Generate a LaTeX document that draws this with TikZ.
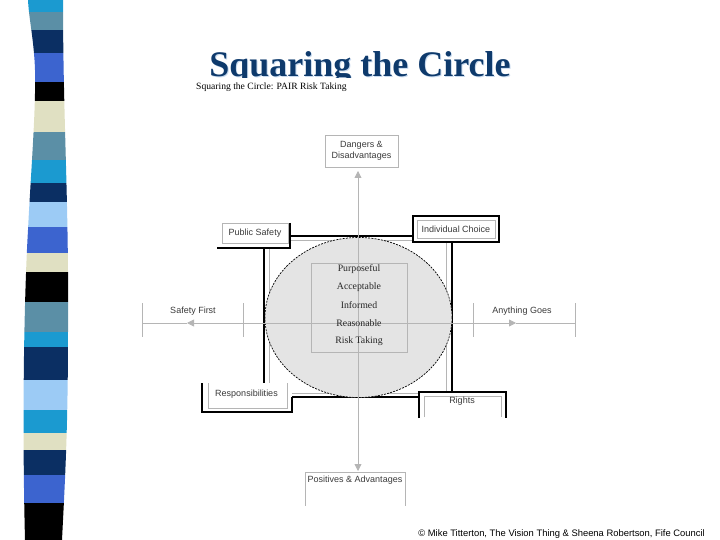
\documentclass[tikz,border=0pt]{standalone}
\usepackage{fontspec}
\setmainfont{Liberation Serif}
\newfontfamily\lsans{Liberation Sans}
\usetikzlibrary{arrows.meta,shapes.geometric}
\definecolor{titlenavy}{HTML}{0E3A6C}
\definecolor{titleshadow}{HTML}{C8DAEE}
\definecolor{cyanA}{HTML}{1B9AD0}
\definecolor{steel}{HTML}{5B8FA6}
\definecolor{navyS}{HTML}{0B2F63}
\definecolor{royal}{HTML}{3C64CF}
\definecolor{beige}{HTML}{E0E0C2}
\definecolor{lightb}{HTML}{9CCBF5}
\definecolor{linegray}{HTML}{B5B5B5}
\definecolor{labgray}{HTML}{3A3A3A}
\definecolor{circfill}{HTML}{E4E4E4}
\tikzset{
  box/.style={inner sep=0pt, outer sep=0pt},
  lab/.style={font=\lsans\fontsize{9}{10.5}\selectfont, text=labgray, align=center},
  gline/.style={draw=linegray, line width=0.7pt},
  blk/.style={draw=black, line width=1.4pt},
  wbox/.style={box, fill=white},
  axis/.style={draw=linegray, line width=0.8pt},
  axtip/.style={-{Triangle[length=7pt,width=7pt]}},
  ctext/.style={font=\fontsize{9.8}{11}\selectfont, text=black!85},
  ttl/.style={anchor=base, text depth=0pt, font=\bfseries\fontsize{36}{40}\selectfont}
}
\begin{document}
\begin{tikzpicture}[x=1pt,y=-1pt]
\useasboundingbox (0,0) rectangle (720,540);
% ---- stripe band ----
\begin{scope}
\clip (28,0) -- (63,0) .. controls (63,120) and (69,200) .. (68,330)
  .. controls (68,430) and (65,480) .. (62,540) -- (25,540)
  .. controls (22,420) and (24,300) .. (28,230)
  .. controls (31,170) and (36,110) .. (35,70)
  .. controls (34,40) and (29,20) .. (28,0) -- cycle;
\foreach \ya/\yb/\c in {0/12/cyanA,12/30/steel,30/53/navyS,53/82/royal,82/101/black,101/132/beige,132/160/steel,160/183/cyanA,183/202/navyS,202/227/lightb,227/253/royal,253/272/beige,272/302/black,302/332/steel,332/347/cyanA,347/380/navyS,380/410/lightb,410/433/cyanA,433/450/beige,450/475/navyS,475/503/royal,503/540/black}
  \fill[\c] (0,\ya) rectangle (100,\yb);
\end{scope}
% ---- title ----
\begin{scope}
\clip (150,0) rectangle (620,78);
\node[ttl, text=titleshadow] at (361,78) {Squaring the Circle};
\node[ttl, text=titlenavy] (title) at (360,77) {Squaring the Circle};
\end{scope}
\node[anchor=base west, font=\fontsize{9.6}{11}\selectfont, inner sep=0pt] (sub) at (196,90) {Squaring the Circle: PAIR Risk Taking};
% ---- squares and circle ----
\draw[blk] (264,236) rectangle (452,397);
\draw[gline] (269,240) rectangle (446,393);
\node[box, ellipse, minimum width=187pt, minimum height=160pt, fill=circfill, draw=black, dash pattern=on 2pt off 1.2pt, line width=0.7pt] (circ) at (358.5,317.5) {};
\node[box, minimum width=96pt, minimum height=89pt, gline] (core) at (359,307.5) {};
% ---- outer boxes ----
\node[box, lab, minimum width=73pt, minimum height=32pt, gline] (dang) at (361.5,151) {Dangers \&\\[1pt]Disadvantages};
\node[box, minimum width=100pt, minimum height=33pt] (pos) at (355,489) {};
\draw[gline] (pos.south west) -- (pos.north west) -- (pos.north east) -- (pos.south east);
\node[box, minimum width=101pt, minimum height=34pt] (sf) at (192.5,320) {};
\draw[gline] (sf.north west) -- (sf.south west) (sf.north east) -- (sf.south east);
\node[box, minimum width=102pt, minimum height=34pt] (ag) at (524,320) {};
\draw[gline] (ag.north west) -- (ag.south west) (ag.north east) -- (ag.south east);
% ---- axes ----
\coordinate (cen) at (358,323);
\coordinate (upTip) at (358,171);
\coordinate (dnTip) at (358,471);
\coordinate (lfTip) at (187,323);
\coordinate (rtTip) at (516,323);
\draw[axis, axtip] (cen) -- (upTip);
\draw[axis, axtip] (cen) -- (dnTip);
\draw[axis, axtip] (cen) -- (lfTip);
\draw[axis, axtip] (cen) -- (rtTip);
\draw[axis] (lfTip) -- (sf.west |- cen);
\draw[axis] (rtTip) -- (ag.east |- cen);
% ---- texts ----
\foreach \t/\y in {Purposeful/269,Acceptable/287,Informed/305,Reasonable/323,Risk Taking/341}
  \node[ctext, anchor=center] at (359,\y) {\t};
\node[lab, anchor=north] at (pos.north) {Positives \& Advantages};
\node[lab] at (193,311) {Safety First};
\node[lab] at (522,311) {Anything Goes};
% ---- corner boxes ----
\node[wbox, minimum width=73pt, minimum height=25pt] (psO) at (253.5,235.5) {};
\draw[blk] (psO.north east) -- (psO.south east) -- (psO.south west);
\node[box, lab, minimum width=66pt, minimum height=20pt, gline] (ps) at (255,233) {Public Safety};
\node[wbox, minimum width=86pt, minimum height=26pt, blk] (icO) at (456,229) {};
\node[box, lab, minimum width=78pt, minimum height=18pt, gline] (ic) at (456,229) {Individual Choice};
\node[wbox, minimum width=90pt, minimum height=29pt] (reO) at (247,397.5) {};
\draw[blk] (reO.north west) -- (reO.south west) -- (reO.south east) -- (reO.east |- 0,397);
\node[box, minimum width=79pt, minimum height=25pt] (re) at (247.5,395.5) {};
\draw[gline] (re.north west) -- (re.south west) -- (re.south east) -- (re.north east);
\node[lab] at (246.5,394) {Responsibilities};
\node[wbox, minimum width=87pt, minimum height=26pt] (riO) at (462.5,405) {};
\draw[blk] (riO.south west) -- (riO.north west) -- (riO.north east) -- (riO.south east);
\node[box, minimum width=77pt, minimum height=21pt] (ri) at (462.5,406.5) {};
\draw[gline] (ri.south west) -- (ri.north west) -- (ri.north east) -- (ri.south east);
\node[lab] at (462,401) {Rights};
% ---- credit ----
\node[anchor=base east, font=\lsans\fontsize{9.4}{11}\selectfont, inner sep=0pt] (credit) at (705,536) {© Mike Titterton, The Vision Thing \& Sheena Robertson, Fife Council};
\end{tikzpicture}
\end{document}
